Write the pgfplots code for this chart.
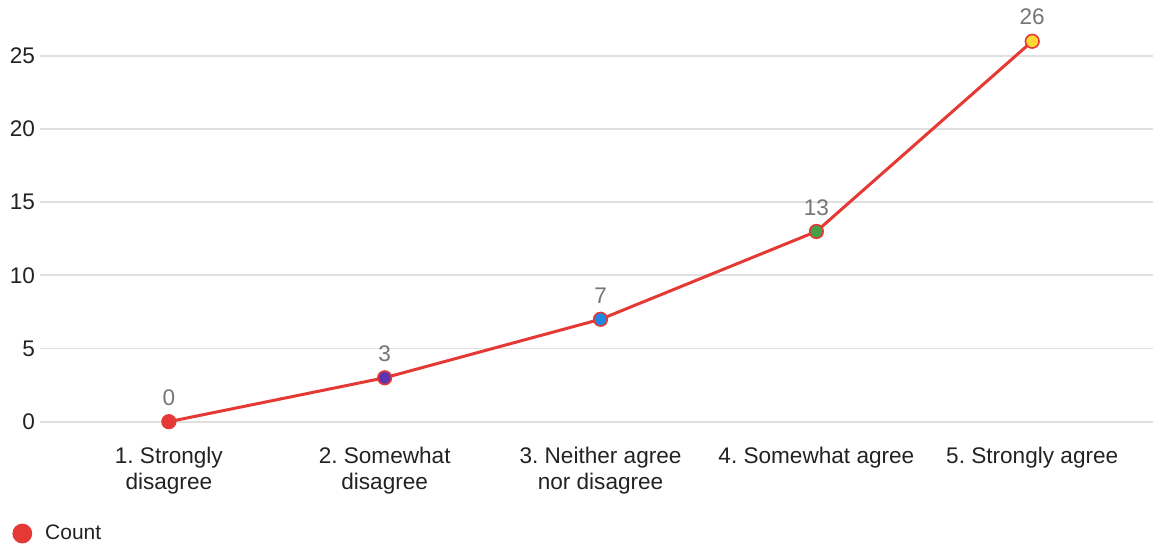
\documentclass[border=0pt]{standalone}
\usepackage{pgfplots}
\pgfplotsset{compat=1.18}
\usepackage{fontspec}
\setmainfont{Liberation Sans}
\frenchspacing
\definecolor{linered}{HTML}{E53935}
\definecolor{cpurple}{HTML}{5E35B1}
\definecolor{cblue}{HTML}{1E88E5}
\definecolor{cgreen}{HTML}{43A047}
\definecolor{cyellow}{HTML}{FDD835}
\definecolor{gridgray}{HTML}{E0E0E0}
\definecolor{labgray}{HTML}{757575}
\definecolor{ticktext}{HTML}{222222}
\begin{document}
\begin{tikzpicture}
\begin{axis}[
  name=ax,
  scale only axis,
  width=557pt, height=205pt,
  xmin=-0.597, xmax=4.56,
  ymin=0, ymax=28,
  clip=false,
  axis line style={draw=none},
  major tick length=0pt,
  ytick={0,5,10,15,20,25},
  ymajorgrids=true,
  grid style={gridgray, line width=0.9pt},
  xtick={0,1,2,3,4},
  xticklabels={{1. Strongly\\disagree},{2. Somewhat\\disagree},{3. Neither agree\\nor disagree},{4. Somewhat agree},{5. Strongly agree}},
  xticklabel style={align=center, font=\fontsize{11.3}{13}\selectfont, text=ticktext, yshift=-9pt},
  yticklabel style={font=\fontsize{11.3}{13}\selectfont, text=ticktext, xshift=1pt},
  /pgf/number format/assume math mode=true,
  legend style={draw=none, fill=none, at={(-0.0251,-0.273)}, anchor=west, inner sep=0pt, font=\fontsize{10.5}{12}\selectfont, text=ticktext},
  legend cell align=left,
]
\addplot[linered, line width=1.5pt, mark=none,
  legend image code/.code={\fill[linered] (4pt,0pt) circle (4.2pt);},
  nodes near coords, point meta=y,
  every node near coord/.append style={labgray, font=\fontsize{11.3}{13}\selectfont, yshift=4pt}]
  coordinates {(0,0) (1,3) (2,7) (3,13) (4,26)};
\addlegendentry{\hspace{4.5pt}Count}
\addplot[forget plot, scatter, only marks, mark=*, mark size=3.4pt,
  point meta=explicit symbolic,
  scatter/classes={a={mark=*, fill=linered, draw=linered, line width=0.8pt},
                   b={mark=*, fill=cpurple, draw=linered, line width=0.8pt},
                   c={mark=*, fill=cblue, draw=linered, line width=0.8pt},
                   d={mark=*, fill=cgreen, draw=linered, line width=0.8pt},
                   e={mark=*, fill=cyellow, draw=linered, line width=0.8pt}}]
  coordinates {(0,0) [a] (1,3) [b] (2,7) [c] (3,13) [d] (4,26) [e]};
\end{axis}
\useasboundingbox ([xshift=-20pt, yshift=-62.5pt]ax.south west) rectangle ([yshift=6pt]ax.north east);
\end{tikzpicture}
\end{document}
